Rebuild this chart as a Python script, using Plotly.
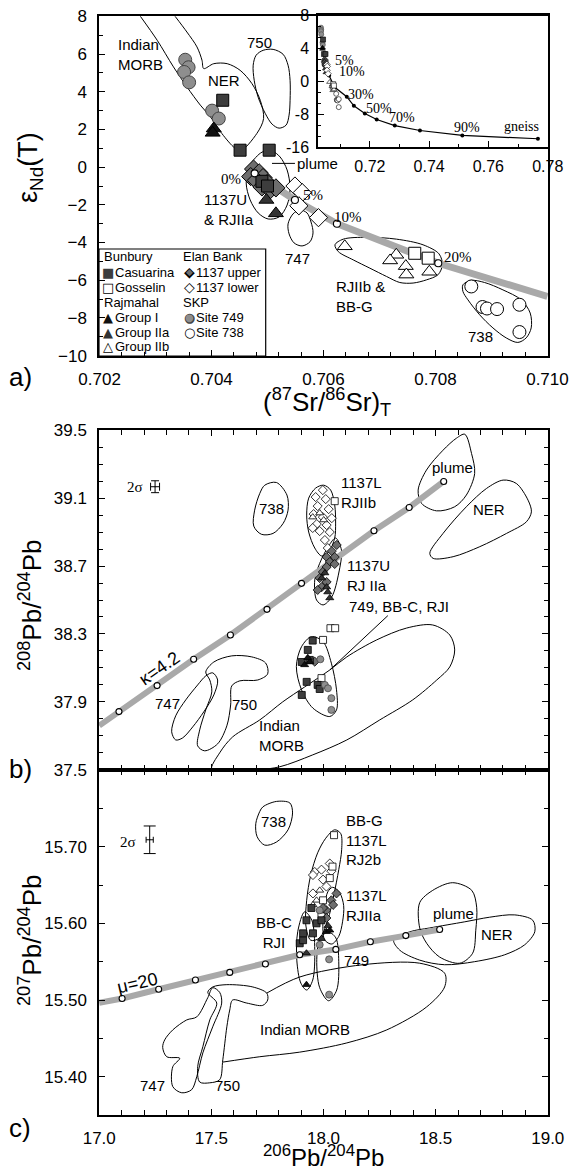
import plotly.graph_objects as go

SANS = "Liberation Sans, Arial, sans-serif"
SERIF = "Liberation Serif, Times New Roman, serif"
SYM = "DejaVu Sans"
W, H = 574, 1172

# ================= Panel a: eNd(T) vs (87Sr/86Sr)T =================
a_casuarina_sr = [0.70420, 0.70451, 0.70503, 0.70490, 0.70500]
a_casuarina_nd = [3.55, 0.90, 0.90, -0.75, -1.00]
a_gosselin_sr = [0.70763, 0.70787]
a_gosselin_nd = [-4.57, -4.83]
a_groupI_sr = [0.70404, 0.70402]
a_groupI_nd = [2.05, 1.82]
a_groupIIa_sr = [0.70498, 0.70515]
a_groupIIa_nd = [-1.74, -2.45]
a_groupIIb_sr = [0.70638, 0.70730, 0.70719, 0.70747, 0.70748, 0.70789]
a_groupIIb_nd = [-4.20, -4.65, -4.95, -5.25, -5.70, -5.55]
a_upper_sr = [0.70475, 0.70485, 0.70470, 0.70492, 0.70480, 0.70500, 0.70490, 0.70505, 0.70515]
a_upper_nd = [-0.10, -0.30, -0.50, -0.55, -0.70, -0.85, -1.05, -1.20, -1.10]
a_lower_sr = [0.70549, 0.70562, 0.70556, 0.70591]
a_lower_nd = [-1.00, -1.35, -2.05, -2.68]
a_s749_sr = [0.70353, 0.70359, 0.70351, 0.70360, 0.70401, 0.70413]
a_s749_nd = [5.70, 5.30, 5.05, 4.50, 3.00, 2.58]
a_s738_sr = [0.70864, 0.70884, 0.70892, 0.70910, 0.70950, 0.70950]
a_s738_nd = [-6.33, -7.42, -7.50, -7.53, -7.30, -8.75]

# mixing line (0%, 5%, 10%, 20%) and its continuation
a_mix_sr = [0.70477, 0.70549, 0.70624, 0.70805]
a_mix_nd = [-0.33, -1.74, -3.00, -5.10]
a_mix_labels = ["0%", "5%", "10%", "20%"]
a_mixlab_sr = [0.70435, 0.70581, 0.70643, 0.70840]
a_mixlab_nd = [-0.65, -1.48, -2.62, -4.78]
a_mixline_sr = [0.70477, 0.70549, 0.70624, 0.70805, 0.71000]
a_mixline_nd = [-0.33, -1.74, -3.00, -5.10, -6.86]

# fields
a_morbner_sr = [0.70273, 0.70303, 0.70332, 0.70356, 0.70380, 0.70398, 0.70416, 0.70439, 0.70451,
                0.70481, 0.70493, 0.70487, 0.70472, 0.70451, 0.70428, 0.70404, 0.70386, 0.70383,
                0.70374, 0.70356, 0.70335]
a_morbner_nd = [8.0, 6.73, 5.32, 4.26, 3.29, 2.67, 1.88, 1.08, 0.85,
                1.79, 2.58, 3.55, 4.44, 5.14, 5.49, 5.49, 5.23, 5.67, 6.38, 7.17, 8.0]
a_750_sr = [0.704922, 0.705100, 0.705278, 0.705367, 0.705403, 0.705403, 0.705385, 0.705332,
            0.705207, 0.705082, 0.704958, 0.704833, 0.704762, 0.704744, 0.704797]
a_750_nd = [6.20, 6.25, 5.99, 5.41, 4.61, 3.55, 2.76, 2.23, 2.07, 2.28, 2.86, 3.71, 4.61, 5.41, 5.94]
a_1137u_sr = [0.704904, 0.704690, 0.704619, 0.704690, 0.704833, 0.705011, 0.705207, 0.705350,
              0.705403, 0.705350, 0.705225, 0.705082]
a_1137u_nd = [0.80, 0.11, -0.84, -1.74, -2.43, -2.75, -2.64, -2.01, -1.11, -0.15, 0.54, 0.85]
a_747_sr = [0.705456, 0.705581, 0.705706, 0.705777, 0.705813, 0.705759, 0.705617, 0.705474,
            0.705385, 0.705367]
a_747_nd = [-2.48, -2.27, -2.43, -2.91, -3.49, -3.96, -4.18, -4.02, -3.54, -3.01]
a_rjiib_sr = [0.706205, 0.706353, 0.706770, 0.707304, 0.707778, 0.708063, 0.708124, 0.708045,
              0.707839, 0.707600, 0.707363, 0.707126, 0.706828, 0.706531, 0.706264]
a_rjiib_nd = [-4.12, -3.82, -3.72, -3.82, -4.12, -4.60, -5.18, -5.71, -5.98, -6.15, -6.12,
              -5.80, -5.36, -4.92, -4.48]
a_738_sr = [0.708491, 0.708641, 0.708877, 0.709204, 0.709531, 0.709692, 0.709710, 0.709620,
            0.709471, 0.709264, 0.709026, 0.708788, 0.708580, 0.708491]
a_738_nd = [-6.24, -6.01, -6.12, -6.51, -7.04, -7.74, -8.53, -9.06, -9.30, -9.06, -8.53,
            -7.83, -7.04, -6.60]
a_plume_lead_sr = [0.70508, 0.70549]
a_plume_lead_nd = [0.20, 0.20]

# inset: mixing curve toward gneiss
in_mix_sr = [0.70477, 0.70549, 0.70624, 0.70805, 0.7122, 0.7146, 0.7183, 0.7223, 0.7284,
             0.7369, 0.7512, 0.7767]
in_mix_nd = [-0.33, -1.74, -3.00, -5.10, -6.85, -8.5, -9.9, -11.0, -12.1, -13.0, -13.9, -14.5]
in_lab_text = ["5%", "10%", "30%", "50%", "70%", "90%", "gneiss"]
in_lab_sr = [0.7116, 0.7140, 0.7170, 0.7232, 0.7310, 0.7529, 0.7711]
in_lab_nd = [-0.3, -2.3, -6.4, -9.0, -10.7, -12.4, -12.2]
in_yticks = [8, 2, -4, -10, -16]
in_yticktext = ["8", "4", "0", "-8", "-16"]
in_xticks = [0.72, 0.74, 0.76, 0.78]

# ================= Panel b: 208Pb/204Pb vs 206Pb/204Pb =================
b_casuarina_206 = [17.952, 17.930, 17.939, 17.903, 17.925, 17.974, 17.983, 17.903]
b_casuarina_208 = [38.261, 38.206, 38.147, 38.135, 38.018, 38.000, 37.976, 37.941]
b_gosselin_206 = [18.050, 18.031, 18.052, 17.998, 17.991]
b_gosselin_208 = [39.082, 38.334, 38.334, 38.265, 38.040]
b_groupI_206 = [17.916, 17.939, 17.930]
b_groupI_208 = [38.118, 38.135, 38.160]
b_groupIIa_206 = [18.006, 17.992, 18.014, 18.019, 18.028]
b_groupIIa_208 = [38.659, 38.629, 38.576, 38.547, 38.512]
b_groupIIb_206 = [17.952, 17.983, 18.001]
b_groupIIb_208 = [38.988, 39.012, 38.971]
b_upper_206 = [18.059, 18.037, 18.050, 18.014, 18.028, 18.050, 18.014, 17.997, 17.983, 18.014,
               17.992, 17.974, 17.961, 17.983]
b_upper_208 = [38.824, 38.788, 38.753, 38.753, 38.724, 38.712, 38.694, 38.665, 38.629, 38.606,
               38.576, 38.559, 38.137, 37.990]
b_lower_206 = [17.997, 17.965, 18.010, 17.974, 18.023, 17.956, 17.997, 18.037, 17.970, 18.014,
               17.983, 18.028, 17.952, 18.006, 18.019]
b_lower_208 = [39.147, 39.106, 39.094, 39.053, 39.035, 39.006, 38.988, 38.982, 38.947, 38.941,
               38.906, 38.900, 38.924, 38.853, 38.806]
b_s749_206 = [17.986, 18.006, 18.020, 18.035, 18.035]
b_s749_208 = [38.151, 38.000, 37.980, 37.922, 37.853]

b_kappa_206 = [17.088, 17.258, 17.421, 17.585, 17.748, 17.902, 18.225, 18.382, 18.536]
b_kappa_208 = [37.843, 37.996, 38.151, 38.294, 38.445, 38.598, 38.908, 39.045, 39.198]
b_kline_206 = [17.0, 17.088, 17.258, 17.421, 17.585, 17.748, 17.902, 18.225, 18.382, 18.536]
b_kline_208 = [37.76, 37.843, 37.996, 38.151, 38.294, 38.445, 38.598, 38.908, 39.045, 39.198]

b_738_206 = [17.738, 17.790, 17.837, 17.842, 17.820, 17.775, 17.723, 17.689, 17.693, 17.716]
b_738_208 = [39.176, 39.192, 39.118, 39.029, 38.951, 38.892, 38.887, 38.935, 39.029, 39.128]
b_rjiib_206 = [17.965, 18.001, 18.032, 18.050, 18.054, 18.050, 18.023, 17.992, 17.961, 17.934,
               17.925, 17.934]
b_rjiib_208 = [39.159, 39.176, 39.147, 39.059, 38.953, 38.865, 38.782, 38.759, 38.806, 38.900,
               39.000, 39.100]
b_1137u_206 = [18.054, 18.080, 18.068, 18.037, 17.998, 17.969, 17.961, 17.983, 18.023]
b_1137u_208 = [38.865, 38.794, 38.659, 38.519, 38.471, 38.500, 38.618, 38.716, 38.818]
b_749_206 = [17.946, 17.998, 18.035, 18.058, 18.058, 18.028, 17.953, 17.902, 17.879, 17.902]
b_749_208 = [38.284, 38.255, 38.128, 37.971, 37.853, 37.814, 37.863, 37.971, 38.108, 38.225]
b_morb_206 = [17.502, 17.537, 17.595, 17.716, 17.818, 17.916, 18.028, 18.104, 18.237, 18.371,
              18.487, 18.563, 18.585, 18.563, 18.505, 18.398, 18.251, 18.104, 17.952, 17.805,
              17.702]
b_morb_208 = [37.500, 37.600, 37.694, 37.794, 37.900, 37.988, 38.088, 38.165, 38.265, 38.335,
              38.353, 38.294, 38.206, 38.106, 38.029, 37.912, 37.794, 37.676, 37.588, 37.518,
              37.500]
b_747_206 = [17.506, 17.528, 17.511, 17.466, 17.417, 17.372, 17.341, 17.323, 17.341, 17.386,
             17.439, 17.475]
b_747_208 = [38.071, 38.029, 37.941, 37.841, 37.753, 37.688, 37.676, 37.724, 37.818, 37.912,
             38.000, 38.053]
b_750_206 = [17.475, 17.511, 17.591, 17.680, 17.742, 17.751, 17.707, 17.627, 17.591, 17.586,
             17.569, 17.528, 17.470, 17.439, 17.448, 17.475, 17.502, 17.493]
b_750_208 = [38.076, 38.135, 38.171, 38.165, 38.129, 38.065, 38.029, 38.024, 37.994, 37.882,
             37.759, 37.653, 37.612, 37.641, 37.735, 37.853, 37.959, 38.029]
b_plume_206 = [18.422, 18.459, 18.533, 18.593, 18.630, 18.660, 18.674, 18.637, 18.585, 18.504,
               18.437]
b_plume_208 = [39.147, 39.265, 39.382, 39.453, 39.476, 39.363, 39.245, 39.118, 39.049, 39.025,
               39.069]
b_ner_206 = [18.474, 18.533, 18.637, 18.727, 18.801, 18.860, 18.912, 18.927, 18.905, 18.816,
             18.697, 18.578, 18.489]
b_ner_208 = [38.775, 38.892, 39.049, 39.157, 39.206, 39.186, 39.088, 39.019, 38.961, 38.892,
             38.814, 38.755, 38.745]
b_lead_206 = [18.287, 18.028]
b_lead_208 = [38.408, 38.088]
b_2s_206, b_2s_208, b_2s_e206, b_2s_e208 = [17.249], [39.167], [0.020], [0.035]

# ================= Panel c: 207Pb/204Pb vs 206Pb/204Pb =================
c_casuarina_206 = [17.946, 17.924, 17.894, 17.909, 17.909, 17.953, 17.969, 17.991]
c_casuarina_207 = [15.620, 15.604, 15.574, 15.578, 15.587, 15.587, 15.600, 15.604]
c_gosselin_206 = [18.047, 18.040, 18.028, 17.998, 17.991]
c_gosselin_207 = [15.715, 15.674, 15.659, 15.630, 15.609]
c_groupI_206 = [17.924, 18.013, 18.028]
c_groupI_207 = [15.520, 15.589, 15.591]
c_groupIIa_206 = [17.924, 17.991, 18.020]
c_groupIIa_207 = [15.561, 15.580, 15.597]
c_groupIIb_206 = [17.983, 17.969, 17.953]
c_groupIIb_207 = [15.643, 15.630, 15.624]
c_upper_206 = [18.058, 18.035, 18.043, 18.013, 17.998, 18.013]
c_upper_207 = [15.639, 15.630, 15.624, 15.617, 15.620, 15.607]
c_lower_206 = [18.028, 17.961, 17.991, 17.953, 17.998, 18.013, 17.953, 18.035]
c_lower_207 = [15.678, 15.667, 15.670, 15.663, 15.657, 15.648, 15.639, 15.668]
c_s749_206 = [17.983, 17.983, 18.025, 18.025]
c_s749_207 = [15.617, 15.572, 15.553, 15.507]

c_mu_206 = [17.102, 17.265, 17.429, 17.582, 17.741, 17.894, 18.055, 18.209, 18.367, 18.518]
c_mu_207 = [15.502, 15.514, 15.526, 15.536, 15.547, 15.559, 15.566, 15.576, 15.584, 15.592]
c_muline_206 = [17.0, 17.102, 17.265, 17.429, 17.582, 17.741, 17.894, 18.055, 18.209, 18.367, 18.518]
c_muline_207 = [15.4965, 15.502, 15.514, 15.526, 15.536, 15.547, 15.559, 15.566, 15.576, 15.584, 15.592]

c_738_206 = [17.730, 17.790, 17.850, 17.862, 17.842, 17.790, 17.738, 17.704, 17.698, 17.716]
c_738_207 = [15.752, 15.759, 15.757, 15.744, 15.722, 15.706, 15.702, 15.713, 15.730, 15.746]
c_bbg_206 = [18.050, 18.077, 18.081, 18.068, 18.046, 18.019, 17.983, 17.943, 17.921, 17.925,
             17.943, 17.974, 18.010]
c_bbg_207 = [15.722, 15.717, 15.696, 15.670, 15.637, 15.604, 15.581, 15.578, 15.598, 15.630,
             15.663, 15.692, 15.711]
c_rjiia_206 = [18.041, 18.072, 18.090, 18.085, 18.068, 18.037, 18.006, 17.997, 18.006, 18.019]
c_rjiia_207 = [15.647, 15.640, 15.623, 15.602, 15.583, 15.573, 15.578, 15.598, 15.624, 15.641]
c_bbc_206 = [17.916, 17.948, 17.961, 17.952, 17.925, 17.899, 17.881, 17.885]
c_bbc_207 = [15.615, 15.604, 15.565, 15.526, 15.513, 15.522, 15.552, 15.589]
c_749_206 = [18.019, 18.055, 18.068, 18.059, 18.023, 17.983, 17.970, 17.983]
c_749_207 = [15.589, 15.581, 15.550, 15.513, 15.499, 15.516, 15.553, 15.578]
c_ner_206 = [18.313, 18.385, 18.474, 18.630, 18.741, 18.853, 18.933, 18.942, 18.897, 18.808,
             18.674, 18.540, 18.429, 18.340]
c_ner_207 = [15.578, 15.589, 15.594, 15.602, 15.608, 15.611, 15.604, 15.589, 15.572, 15.559,
             15.550, 15.546, 15.552, 15.565]
c_plume_206 = [18.429, 18.487, 18.576, 18.661, 18.683, 18.679, 18.665, 18.608, 18.518, 18.460, 18.429]
c_plume_207 = [15.627, 15.643, 15.653, 15.643, 15.621, 15.591, 15.561, 15.548, 15.556, 15.574, 15.594]
c_morb_206 = [17.747, 17.894, 18.175, 18.429, 18.540, 18.540, 18.460, 18.282, 18.104, 17.894,
              17.716, 17.551]
c_morb_207 = [15.509, 15.530, 15.546, 15.548, 15.535, 15.517, 15.491, 15.461, 15.444, 15.432,
              15.426, 15.419]
c_747_206 = [17.506, 17.484, 17.435, 17.390, 17.328, 17.292, 17.283, 17.301, 17.359, 17.328,
             17.328, 17.368, 17.412, 17.435, 17.462, 17.506, 17.546, 17.537]
c_747_207 = [15.516, 15.503, 15.478, 15.474, 15.461, 15.448, 15.438, 15.426, 15.424, 15.413,
             15.387, 15.379, 15.383, 15.400, 15.431, 15.465, 15.496, 15.510]
c_750_206 = [17.484, 17.506, 17.569, 17.685, 17.747, 17.751, 17.729, 17.658, 17.595, 17.582,
             17.569, 17.551, 17.537, 17.493, 17.448, 17.439, 17.462, 17.493, 17.524]
c_750_207 = [15.510, 15.517, 15.520, 15.517, 15.509, 15.500, 15.493, 15.496, 15.500, 15.487,
             15.465, 15.422, 15.396, 15.392, 15.393, 15.413, 15.439, 15.474, 15.496]
c_2s_206, c_2s_207, c_2s_e206, c_2s_e207 = [17.225], [15.709], [0.016], [0.018]

# ================= styles =================
STY = {
    "casuarina": dict(symbol="square", color="#3d3d3d", edge="black"),
    "gosselin": dict(symbol="square", color="white", edge="black"),
    "groupI": dict(symbol="triangle-up", color="#111111", edge="black"),
    "groupIIa": dict(symbol="triangle-up", color="#333333", edge="black"),
    "groupIIb": dict(symbol="triangle-up", color="white", edge="black"),
    "upper": dict(symbol="diamond", color="#6e6e6e", edge="black"),
    "lower": dict(symbol="diamond", color="white", edge="black"),
    "s749": dict(symbol="circle", color="#8e8e8e", edge="#444444"),
    "s738": dict(symbol="circle", color="white", edge="black"),
}
NAMES = {"casuarina": "Casuarina", "gosselin": "Gosselin", "groupI": "Group I",
         "groupIIa": "Group IIa", "groupIIb": "Group IIb", "upper": "1137 upper",
         "lower": "1137 lower", "s749": "Site 749", "s738": "Site 738"}
SIZE_A = {"square": 12, "triangle-up": 13, "diamond": 14, "circle": 13}

fig = go.Figure()


def field(xs, ys, xa, ya, closed=True):
    if closed:
        xs = list(xs) + [xs[0]]
        ys = list(ys) + [ys[0]]
    fig.add_trace(go.Scatter(x=xs, y=ys, mode="lines", xaxis=xa, yaxis=ya,
                             line=dict(color="black", width=1, shape="spline", smoothing=0.9),
                             showlegend=False, hoverinfo="skip"))


def line(xs, ys, xa, ya, color="black", width=1):
    fig.add_trace(go.Scatter(x=xs, y=ys, mode="lines", xaxis=xa, yaxis=ya,
                             line=dict(color=color, width=width), showlegend=False,
                             hoverinfo="skip"))


def pts(xs, ys, key, xa, ya, size=None, lw=1.0):
    s = STY[key]
    sz = size if size is not None else SIZE_A[s["symbol"]]
    fig.add_trace(go.Scatter(x=xs, y=ys, mode="markers", xaxis=xa, yaxis=ya, name=NAMES[key],
                             marker=dict(symbol=s["symbol"], size=sz, color=s["color"],
                                         line=dict(color=s["edge"], width=lw)),
                             showlegend=False))


def mixpts(xs, ys, xa, ya, size):
    fig.add_trace(go.Scatter(x=xs, y=ys, mode="markers", xaxis=xa, yaxis=ya,
                             marker=dict(symbol="circle", size=size, color="white",
                                         line=dict(color="black", width=1.1)),
                             showlegend=False))


# ---------- panel a ----------
GREY = "#a9a9a9"
field(a_morbner_sr, a_morbner_nd, "x", "y", closed=False)
field(a_750_sr, a_750_nd, "x", "y")
field(a_1137u_sr, a_1137u_nd, "x", "y")
field(a_747_sr, a_747_nd, "x", "y")
field(a_rjiib_sr, a_rjiib_nd, "x", "y")
field(a_738_sr, a_738_nd, "x", "y")
line(a_plume_lead_sr, a_plume_lead_nd, "x", "y")
line(a_mixline_sr, a_mixline_nd, "x", "y", color=GREY, width=7)
pts(a_s749_sr, a_s749_nd, "s749", "x", "y")
pts(a_s738_sr, a_s738_nd, "s738", "x", "y")
pts(a_groupIIb_sr, a_groupIIb_nd, "groupIIb", "x", "y")
pts(a_gosselin_sr, a_gosselin_nd, "gosselin", "x", "y")
pts(a_lower_sr, a_lower_nd, "lower", "x", "y")
pts(a_upper_sr, a_upper_nd, "upper", "x", "y")
pts(a_casuarina_sr, a_casuarina_nd, "casuarina", "x", "y")
pts(a_groupI_sr, a_groupI_nd, "groupI", "x", "y")
pts(a_groupIIa_sr, a_groupIIa_nd, "groupIIa", "x", "y")
mixpts(a_mix_sr, a_mix_nd, "x", "y", 7)

# ---------- inset ----------
fig.add_trace(go.Scatter(x=in_mix_sr, y=in_mix_nd, mode="lines+markers", xaxis="x4", yaxis="y4",
                         line=dict(color="black", width=1.2),
                         marker=dict(size=4, color="black"), showlegend=False))
for key, xs, ys in [("s749", a_s749_sr, a_s749_nd), ("casuarina", a_casuarina_sr, a_casuarina_nd),
                    ("groupI", a_groupI_sr, a_groupI_nd), ("upper", a_upper_sr, a_upper_nd),
                    ("groupIIa", a_groupIIa_sr, a_groupIIa_nd), ("lower", a_lower_sr, a_lower_nd),
                    ("groupIIb", a_groupIIb_sr, a_groupIIb_nd), ("gosselin", a_gosselin_sr, a_gosselin_nd),
                    ("s738", a_s738_sr, a_s738_nd)]:
    pts(xs, ys, key, "x4", "y4", size=5, lw=0.6)

# ---------- panel b ----------
field(b_738_206, b_738_208, "x2", "y2")
field(b_rjiib_206, b_rjiib_208, "x2", "y2")
field(b_1137u_206, b_1137u_208, "x2", "y2")
field(b_749_206, b_749_208, "x2", "y2")
field(b_morb_206, b_morb_208, "x2", "y2")
field(b_747_206, b_747_208, "x2", "y2")
field(b_750_206, b_750_208, "x2", "y2")
field(b_plume_206, b_plume_208, "x2", "y2")
field(b_ner_206, b_ner_208, "x2", "y2")
line(b_lead_206, b_lead_208, "x2", "y2")
line(b_kline_206, b_kline_208, "x2", "y2", color=GREY, width=6)
mixpts(b_kappa_206, b_kappa_208, "x2", "y2", 6)
for key, xs, ys in [("lower", b_lower_206, b_lower_208), ("groupIIb", b_groupIIb_206, b_groupIIb_208),
                    ("gosselin", b_gosselin_206, b_gosselin_208), ("upper", b_upper_206, b_upper_208),
                    ("casuarina", b_casuarina_206, b_casuarina_208), ("s749", b_s749_206, b_s749_208),
                    ("groupI", b_groupI_206, b_groupI_208), ("groupIIa", b_groupIIa_206, b_groupIIa_208)]:
    pts(xs, ys, key, "x2", "y2", size=7, lw=0.8)
fig.add_trace(go.Scatter(x=b_2s_206, y=b_2s_208, mode="markers", xaxis="x2", yaxis="y2",
                         marker=dict(size=1, color="black"),
                         error_x=dict(type="data", array=b_2s_e206, width=4, thickness=1, color="black"),
                         error_y=dict(type="data", array=b_2s_e208, width=4, thickness=1, color="black"),
                         showlegend=False))

# ---------- panel c ----------
field(c_738_206, c_738_207, "x3", "y3")
field(c_bbg_206, c_bbg_207, "x3", "y3")
field(c_rjiia_206, c_rjiia_207, "x3", "y3")
field(c_bbc_206, c_bbc_207, "x3", "y3")
field(c_749_206, c_749_207, "x3", "y3")
field(c_ner_206, c_ner_207, "x3", "y3")
field(c_plume_206, c_plume_207, "x3", "y3")
field(c_morb_206, c_morb_207, "x3", "y3", closed=False)
field(c_747_206, c_747_207, "x3", "y3")
field(c_750_206, c_750_207, "x3", "y3")
line(c_muline_206, c_muline_207, "x3", "y3", color=GREY, width=6)
mixpts(c_mu_206, c_mu_207, "x3", "y3", 6)
for key, xs, ys in [("lower", c_lower_206, c_lower_207), ("groupIIb", c_groupIIb_206, c_groupIIb_207),
                    ("gosselin", c_gosselin_206, c_gosselin_207), ("upper", c_upper_206, c_upper_207),
                    ("casuarina", c_casuarina_206, c_casuarina_207), ("s749", c_s749_206, c_s749_207),
                    ("groupI", c_groupI_206, c_groupI_207), ("groupIIa", c_groupIIa_206, c_groupIIa_207)]:
    pts(xs, ys, key, "x3", "y3", size=7, lw=0.8)
fig.add_trace(go.Scatter(x=c_2s_206, y=c_2s_207, mode="markers", xaxis="x3", yaxis="y3",
                         marker=dict(size=1, color="black"),
                         error_x=dict(type="data", array=c_2s_e206, width=3, thickness=1, color="black"),
                         error_y=dict(type="data", array=c_2s_e207, width=6, thickness=1, color="black"),
                         showlegend=False))

# ================= annotations =================
ann = []


def lab(text, x, y, xref, yref, size=15, family=SANS, xanchor="center", align="center",
        angle=0, color="black", yanchor="middle"):
    ann.append(dict(text=text, x=x, y=y, xref=xref, yref=yref, showarrow=False,
                    font=dict(family=family, size=size, color=color), xanchor=xanchor,
                    yanchor=yanchor, align=align, textangle=angle, borderpad=0))


def P(px, py):
    return px / W, 1 - py / H


# panel a labels
lab("Indian<br>MORB", 0.70232, 5.96, "x", "y", xanchor="left", align="left")
lab("NER", 0.70423, 4.61, "x", "y")
lab("750", 0.70486, 6.62, "x", "y")
lab("1137U<br>& RJIIa", 0.70385, -2.27, "x", "y", xanchor="left", align="left")
lab("plume", 0.70551, 0.20, "x", "y", xanchor="left")
lab("747", 0.70554, -4.83, "x", "y")
lab("RJIIb &<br>BB-G", 0.70621, -6.85, "x", "y", xanchor="left", align="left")
lab("738", 0.70880, -8.98, "x", "y")
for t, xx, yy in zip(a_mix_labels, a_mixlab_sr, a_mixlab_nd):
    lab(t, xx, yy, "x", "y", size=15, family=SERIF)
for t, xx, yy in zip(in_lab_text, in_lab_sr, in_lab_nd):
    lab(t, xx, yy, "x4", "y4", size=14, family=SERIF)

# panel b labels
lab("738", 17.768, 39.04, "x2", "y2")
lab("1137L<br>RJIIb", 18.073, 39.132, "x2", "y2", xanchor="left", align="left")
lab("1137U<br>RJ IIa", 18.102, 38.647, "x2", "y2", xanchor="left", align="left")
lab("749, BB-C, RJI", 18.110, 38.461, "x2", "y2", xanchor="left")
lab("plume", 18.573, 39.278, "x2", "y2")
lab("NER", 18.737, 39.033, "x2", "y2")
lab("Indian<br>MORB", 17.708, 37.702, "x2", "y2", xanchor="left", align="left")
lab("747", 17.303, 37.892, "x2", "y2")
lab("750", 17.649, 37.882, "x2", "y2")
lab("2σ", 17.161, 39.167, "x2", "y2", family=SERIF, size=15)
lab("κ=4.2", 17.270, 38.10, "x2", "y2", size=18, angle=-35)

# panel c labels
lab("738", 17.775, 15.733, "x3", "y3")
lab("BB-G<br>1137L<br>RJ2b", 18.095, 15.709, "x3", "y3", xanchor="left", align="left")
lab("1137L<br>RJIIa", 18.095, 15.623, "x3", "y3", xanchor="left", align="left")
lab("BB-C<br>RJI", 17.778, 15.588, "x3", "y3")
lab("749", 18.087, 15.552, "x3", "y3", xanchor="left")
lab("plume", 18.578, 15.613, "x3", "y3")
lab("NER", 18.775, 15.585, "x3", "y3")
lab("Indian MORB", 17.916, 15.461, "x3", "y3")
lab("747", 17.236, 15.389, "x3", "y3")
lab("750", 17.571, 15.389, "x3", "y3")
lab("2σ", 17.129, 15.706, "x3", "y3", family=SERIF, size=15)
lab("μ=20", 17.169, 15.522, "x3", "y3", size=18, angle=-13)

# axis titles and panel letters
x_, y_ = P(30, 168)
lab("ε<sub>Nd</sub>(T)", x_, y_, "paper", "paper", size=27, angle=-90)
x_, y_ = P(327, 402)
lab("(<sup>87</sup>Sr/<sup>86</sup>Sr)<sub>T</sub>", x_, y_, "paper", "paper", size=26)
x_, y_ = P(30, 605)
lab("<sup>208</sup>Pb/<sup>204</sup>Pb", x_, y_, "paper", "paper", size=26, angle=-90)
x_, y_ = P(30, 940)
lab("<sup>207</sup>Pb/<sup>204</sup>Pb", x_, y_, "paper", "paper", size=26, angle=-90)
x_, y_ = P(323, 1156)
lab("<sup>206</sup>Pb/<sup>204</sup>Pb", x_, y_, "paper", "paper", size=24)
for t, py in [("a)", 377), ("b)", 769), ("c)", 1128)]:
    x_, y_ = P(20, py)
    lab(t, x_, y_, "paper", "paper", size=26)

# legend (two columns)
leg_rows = [256.7, 272.3, 287.3, 302.7, 317.7, 332.7, 346.7]
leg1_text = ["Bunbury", "Casuarina", "Gosselin", "Rajmahal", "Group I", "Group IIa", "Group IIb"]
leg1_keys = [None, "casuarina", "gosselin", None, "groupI", "groupIIa", "groupIIb"]
leg2_text = ["Elan Bank", "1137 upper", "1137 lower", "SKP", "Site 749", "Site 738"]
leg2_keys = [None, "upper", "lower", None, "s749", "s738"]
GLYPH = {"casuarina": [("■", "#3d3d3d", 13)], "gosselin": [("□", "black", 13)],
         "groupI": [("▲", "#111111", 13)], "groupIIa": [("▲", "#333333", 13)],
         "groupIIb": [("△", "black", 13)],
         "upper": [("◆", "black", 14), ("◆", "#6e6e6e", 9)], "lower": [("◇", "black", 14)],
         "s749": [("●", "#444444", 13), ("●", "#8e8e8e", 10)], "s738": [("○", "black", 13)]}
for texts, keys, hx, sx in [(leg1_text, leg1_keys, 103, 108), (leg2_text, leg2_keys, 182, 189)]:
    for txt, key, py in zip(texts, keys, leg_rows):
        if key is None:
            x_, y_ = P(hx, py)
            lab(txt, x_, y_, "paper", "paper", size=13, xanchor="left")
        else:
            for g, col, gs in GLYPH[key]:
                x_, y_ = P(sx, py)
                lab(g, x_, y_, "paper", "paper", size=gs, family=SYM, color=col)
            x_, y_ = P(sx + 6, py)
            lab(txt, x_, y_, "paper", "paper", size=13, xanchor="left")

lx0, ly1 = P(99, 249)
lx1, ly0 = P(265.7, 356)
shapes = [dict(type="rect", xref="paper", yref="paper", x0=lx0, x1=lx1, y0=ly0, y1=ly1,
               line=dict(color="black", width=1.2), fillcolor="rgba(0,0,0,0)", layer="above")]

# ================= axes =================
def dom_x(px0, px1):
    return [px0 / W, px1 / W]


def dom_y(py_top, py_bot):
    return [1 - py_bot / H, 1 - py_top / H]


TF = dict(family=SANS, size=17, color="black")
base = dict(showgrid=False, zeroline=False, showline=True, linecolor="black", linewidth=1.5,
            ticks="inside", ticklen=6, tickwidth=1, tickcolor="black", tickfont=TF,
            ticklabelstandoff=7, automargin=False)

layout = dict(
    width=W, height=H, margin=dict(l=0, r=0, t=0, b=0, pad=0, autoexpand=False),
    paper_bgcolor="white", plot_bgcolor="rgba(0,0,0,0)", showlegend=False,
    font=dict(family=SANS, color="black"),
    xaxis=dict(base, domain=dom_x(99, 548), range=[0.70199, 0.71001], anchor="y",
               tickmode="linear", tick0=0.702, dtick=0.002, tickformat=".3f", mirror=True,
               minor=dict(tick0=0.702, dtick=0.0004, ticks="inside", ticklen=4, tickcolor="black")),
    yaxis=dict(base, domain=dom_y(16, 356), range=[-10.02, 8.02], anchor="x",
               tickmode="linear", tick0=-10, dtick=2, mirror=True,
               minor=dict(tick0=-10, dtick=1, ticks="inside", ticklen=4, tickcolor="black")),
    xaxis2=dict(base, domain=dom_x(99, 548), range=[16.999, 19.001], anchor="y2",
                tickmode="linear", tick0=17, dtick=0.5, showticklabels=False, mirror="ticks",
                minor=dict(tick0=17, dtick=0.1, ticks="inside", ticklen=5, tickcolor="black")),
    yaxis2=dict(base, domain=dom_y(430, 770), range=[37.499, 39.501], anchor="x2",
                tickmode="linear", tick0=37.5, dtick=0.4, tickformat=".1f", mirror="ticks",
                minor=dict(tick0=37.5, dtick=0.1, ticks="inside", ticklen=4, tickcolor="black")),
    xaxis3=dict(base, domain=dom_x(99, 548), range=[16.999, 19.001], anchor="y3",
                tickmode="linear", tick0=17, dtick=0.5, tickformat=".1f", mirror="ticks",
                minor=dict(tick0=17, dtick=0.1, ticks="inside", ticklen=5, tickcolor="black")),
    yaxis3=dict(base, domain=dom_y(770, 1115), range=[15.35, 15.80], anchor="x3",
                tickmode="array", tickvals=[15.4, 15.5, 15.6, 15.7],
                ticktext=["15.40", "15.50", "15.60", "15.70"], mirror="ticks",
                minor=dict(tickmode="linear", tick0=15.35, dtick=0.05, ticks="inside",
                           ticklen=4, tickcolor="black")),
    xaxis4=dict(base, domain=dom_x(318, 548), range=[0.7025, 0.7801], anchor="y4",
                tickmode="array", tickvals=in_xticks, ticktext=[f"{v:.2f}" for v in in_xticks],
                mirror=True, tickfont=dict(family=SANS, size=16), ticklabelstandoff=4,
                minor=dict(tickmode="linear", tick0=0.70, dtick=0.01, ticks="inside", ticklen=3,
                           tickcolor="black")),
    yaxis4=dict(base, domain=dom_y(15, 147), range=[-16, 8], anchor="x4",
                tickmode="array", tickvals=in_yticks, ticktext=in_yticktext, mirror=True,
                tickfont=dict(family=SANS, size=16), ticklabelstandoff=4,
                minor=dict(tickmode="linear", tick0=-16, dtick=2, ticks="inside", ticklen=3,
                           tickcolor="black")),
    annotations=ann, shapes=shapes,
)
fig.update_layout(**layout)
fig.write_html("out.html")
